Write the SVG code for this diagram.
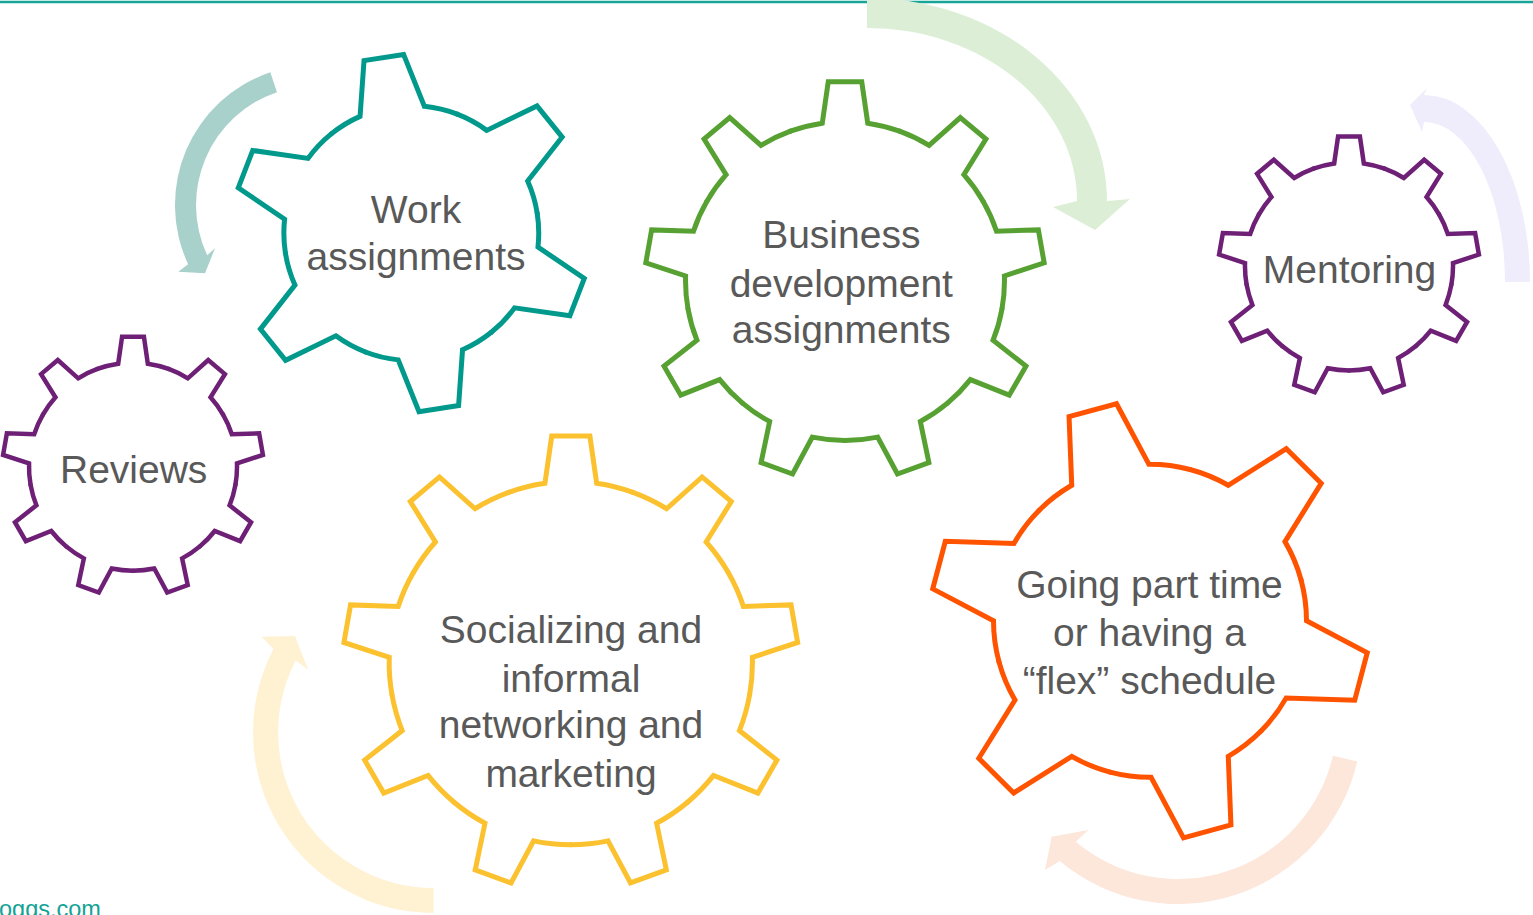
<svg xmlns="http://www.w3.org/2000/svg" xmlns:xlink="http://www.w3.org/1999/xlink" width="1533" height="915" viewBox="0 0 1533 915">
<style>
.lbl{font-family:"Liberation Sans",Arial,sans-serif;font-size:39px;fill:#595959;text-anchor:middle}
.gear{fill:none;stroke-linecap:round;stroke-linejoin:miter}
.url{font-family:"Liberation Sans",Arial,sans-serif;font-size:23.5px;fill:#12A396}
</style>
<defs>
<path id="t9" d="M-27.36-75.18A80 80 0 0 1-11.4-79.2L-8.4-100L8.4-100L11.4-79.2A80 80 0 0 1 27.36-75.18"/>
<g id="g9">
<use href="#t9"/>
<use href="#t9" transform="rotate(40)"/>
<use href="#t9" transform="rotate(80)"/>
<use href="#t9" transform="rotate(120)"/>
<use href="#t9" transform="rotate(160)"/>
<use href="#t9" transform="rotate(200)"/>
<use href="#t9" transform="rotate(240)"/>
<use href="#t9" transform="rotate(280)"/>
<use href="#t9" transform="rotate(320)"/>
</g>
<path id="t6" d="M-35.86-62.11A71.72 71.72 0 0 1-18.33-69.34L-11.27-100L11.27-100L18.33-69.34A71.72 71.72 0 0 1 35.86-62.11"/>
<g id="g6">
<use href="#t6"/>
<use href="#t6" transform="rotate(60)"/>
<use href="#t6" transform="rotate(120)"/>
<use href="#t6" transform="rotate(180)"/>
<use href="#t6" transform="rotate(240)"/>
<use href="#t6" transform="rotate(300)"/>
</g>
</defs>
<rect width="1533" height="915" fill="#ffffff"/>
<line x1="0" y1="2" x2="1533" y2="2" stroke="#17A597" stroke-width="2.5"/>
<g id="connectors">
<path id="arrow-teal" fill="#A9D1CB" d="M270.3 72.3A140 140 0 0 0 188.1 264.2L178.3 271.7L205 273.3L215 248.3L207.2 255.3A119 119 0 0 1 277 92.2Z"/>
<path id="arrow-green" fill="#DCEFD6" d="M867 -2A240 203 0 0 1 1107 201L1130 199L1095 230L1053 207L1077 201A210 173 0 0 0 867 28Z"/>
<path id="arrow-purple" fill="#EFEDFB" d="M1530 282A106 187 0 0 0 1424 95L1427 88L1410 105L1422 132L1424 122A81 160 0 0 1 1505 282Z"/>
<path id="arrow-orange" fill="#FDE6DA" d="M1357.3 761.4A184 184 0 0 1 1059.7 860.9L1045 870L1051.7 836.7L1088.3 830L1075.8 841.8A159 159 0 0 0 1332.9 755.8Z"/>
<path id="arrow-yellow" fill="#FFF2D3" d="M433.7 913.1A180.7 180.7 0 0 1 273.4 649L261.7 636.7L295 636L308.3 670L295.7 660.6A155.6 155.6 0 0 0 433.7 888Z"/>
</g>
<g id="node-work">
<use class="gear" href="#g6" transform="translate(411.3 233.1) rotate(-8.9) scale(1.777)" stroke="#00998C" stroke-width="2.81"/>
<text class="lbl" x="416" y="222.7">Work</text>
<text class="lbl" x="416" y="270">assignments</text>
</g>
<g id="node-business">
<use class="gear" href="#g9" transform="translate(845 281) scale(1.993)" stroke="#57A133" stroke-width="2.51"/>
<text class="lbl" x="841.3" y="248.3">Business</text>
<text class="lbl" x="841.3" y="296.7">development</text>
<text class="lbl" x="841.3" y="343.3">assignments</text>
</g>
<g id="node-mentoring">
<use class="gear" href="#g9" transform="translate(1349 266.4) scale(1.30)" stroke="#6E2076" stroke-width="3.46"/>
<text class="lbl" x="1349.5" y="283">Mentoring</text>
</g>
<g id="node-reviews">
<use class="gear" href="#g9" transform="translate(133 466.7) scale(1.30)" stroke="#6E2076" stroke-width="3.46"/>
<text class="lbl" x="133.7" y="483.3">Reviews</text>
</g>
<g id="node-socializing">
<use class="gear" href="#g9" transform="translate(570.8 663.1) scale(2.27)" stroke="#FBC12E" stroke-width="2.2"/>
<text class="lbl" x="571" y="643.3">Socializing and</text>
<text class="lbl" x="571" y="691.7">informal</text>
<text class="lbl" x="571" y="738.3">networking and</text>
<text class="lbl" x="571" y="786.7">marketing</text>
</g>
<g id="node-flex">
<use class="gear" href="#g6" transform="translate(1150 620.8) rotate(-15.2) scale(2.182)" stroke="#FF5300" stroke-width="2.29"/>
<text class="lbl" x="1149.5" y="598">Going part time</text>
<text class="lbl" x="1149.5" y="646.3">or having a</text>
<text class="lbl" x="1149.5" y="694">“flex” schedule</text>
</g>
<text class="url" x="-1" y="917">oggs.com</text>
</svg>
